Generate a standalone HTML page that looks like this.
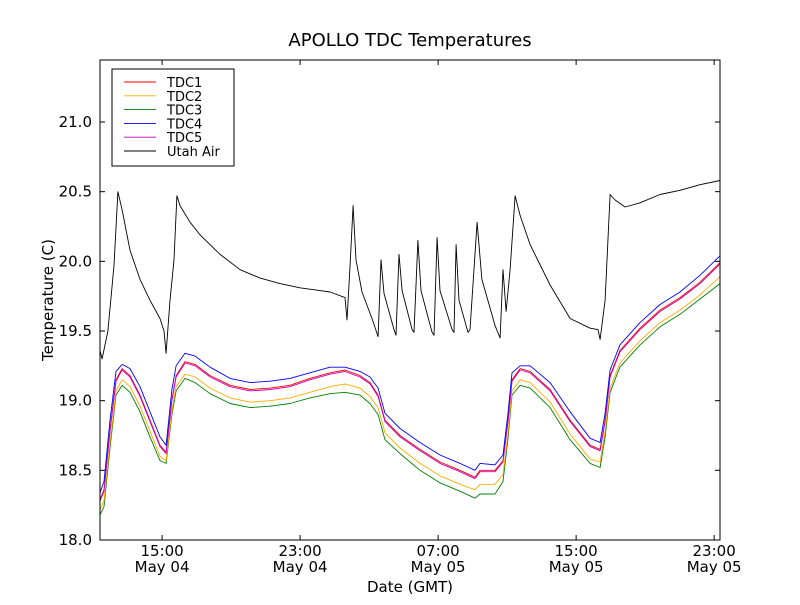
<!DOCTYPE html>
<html><head><meta charset="utf-8"><style>
body{margin:0;background:#fff;font-family:"Liberation Sans","DejaVu Sans",sans-serif}
svg text{font-family:"DejaVu Sans","Liberation Sans",sans-serif}
</style></head><body>
<svg id="chart" width="800" height="600" xmlns="http://www.w3.org/2000/svg">
<rect width="800" height="600" fill="#fff"/>
<text x="410" y="46" font-size="18" text-anchor="middle">APOLLO TDC Temperatures</text>
<text x="410" y="592" font-size="15" text-anchor="middle">Date (GMT)</text>
<text x="53" y="300" font-size="15" text-anchor="middle" transform="rotate(-90 53 300)">Temperature (C)</text>
<g id="plot"></g>
<rect x="100" y="60" width="620" height="480" fill="none" stroke="#000" stroke-width="1"/>
<g id="legend"></g>
</svg>
<script>
const tdcHours=[11.40,11.63,11.98,12.33,12.68,13.14,13.72,14.30,14.88,15.23,15.57,15.81,16.33,16.91,17.78,18.94,20.10,21.26,22.41,23.57,24.73,25.60,26.47,27.05,27.52,27.92,28.79,29.95,31.11,32.27,33.14,33.43,34.30,34.76,35.05,35.28,35.75,36.33,37.49,38.65,39.81,40.39,40.68,40.97,41.54,42.70,43.86,45.02,46.18,47.34];
const tdc1=[18.29,18.36,18.79,19.15,19.23,19.18,19.04,18.86,18.68,18.63,19.01,19.18,19.28,19.26,19.18,19.11,19.08,19.09,19.11,19.16,19.20,19.22,19.18,19.13,19.04,18.86,18.75,18.65,18.56,18.50,18.45,18.50,18.50,18.57,18.86,19.15,19.23,19.21,19.08,18.86,18.68,18.65,18.86,19.18,19.36,19.52,19.65,19.74,19.85,19.99];
const tdc2=[18.22,18.28,18.70,19.07,19.15,19.10,18.96,18.78,18.60,18.57,18.93,19.10,19.19,19.17,19.09,19.02,18.99,19.00,19.02,19.06,19.10,19.12,19.09,19.03,18.95,18.77,18.66,18.55,18.46,18.40,18.36,18.40,18.40,18.47,18.77,19.07,19.15,19.13,18.99,18.76,18.58,18.56,18.78,19.09,19.27,19.43,19.56,19.65,19.76,19.89];
const tdc3=[18.18,18.24,18.66,19.04,19.11,19.06,18.92,18.74,18.57,18.55,18.90,19.07,19.16,19.13,19.05,18.98,18.95,18.96,18.98,19.02,19.05,19.06,19.04,18.98,18.90,18.72,18.62,18.50,18.41,18.35,18.30,18.33,18.33,18.42,18.73,19.04,19.11,19.09,18.95,18.72,18.55,18.52,18.74,19.06,19.24,19.40,19.53,19.62,19.73,19.84];
const tdc4=[18.34,18.42,18.86,19.21,19.26,19.23,19.10,18.92,18.74,18.68,19.08,19.25,19.34,19.32,19.24,19.16,19.13,19.14,19.16,19.20,19.24,19.24,19.21,19.17,19.09,18.91,18.80,18.70,18.61,18.55,18.50,18.55,18.54,18.61,18.91,19.20,19.25,19.25,19.13,18.92,18.73,18.70,18.91,19.22,19.40,19.56,19.69,19.78,19.90,20.04];
const tdc5=[18.28,18.35,18.78,19.14,19.22,19.17,19.03,18.85,18.67,18.62,19.00,19.17,19.27,19.25,19.17,19.10,19.07,19.08,19.10,19.15,19.19,19.21,19.17,19.12,19.03,18.85,18.74,18.64,18.55,18.49,18.44,18.49,18.49,18.56,18.85,19.14,19.22,19.20,19.07,18.85,18.67,18.64,18.85,19.17,19.35,19.51,19.64,19.73,19.84,19.98];
const airHours=[11.40,11.52,11.86,12.21,12.44,12.68,13.14,13.72,14.30,14.88,15.11,15.23,15.46,15.69,15.86,16.04,16.62,17.20,18.36,19.52,20.68,21.83,22.99,24.15,24.73,25.60,25.72,25.89,26.07,26.24,26.59,27.17,27.52,27.69,27.86,28.44,28.56,28.73,28.91,29.49,29.60,29.83,30.01,30.65,30.76,30.94,31.11,31.81,31.92,32.04,32.21,32.73,32.85,33.26,33.54,34.30,34.59,34.76,34.94,35.17,35.46,35.75,36.33,37.49,38.65,39.81,40.27,40.39,40.68,40.97,41.26,41.84,42.70,43.86,45.02,46.18,47.34];
const airTemp=[19.36,19.30,19.50,19.97,20.50,20.37,20.08,19.87,19.72,19.59,19.50,19.34,19.72,20.01,20.47,20.40,20.28,20.19,20.05,19.94,19.88,19.84,19.81,19.79,19.78,19.74,19.58,19.96,20.40,20.01,19.78,19.59,19.46,20.01,19.77,19.51,19.47,20.05,19.79,19.51,19.49,20.15,19.79,19.49,19.47,20.17,19.79,19.51,19.49,20.12,19.72,19.49,19.51,20.28,19.87,19.54,19.45,19.94,19.64,19.94,20.47,20.33,20.12,19.83,19.59,19.52,19.51,19.44,19.72,20.48,20.44,20.39,20.42,20.48,20.51,20.55,20.58];
const yTicks=[18.0,18.5,19.0,19.5,20.0,20.5,21.0];
const xTicks=[15,23,31,39,47];
const xTickTimes=["15:00","23:00","07:00","15:00","23:00"];
const xTickDates=["May 04","May 04","May 05","May 05","May 05"];
const seriesNames=["TDC1","TDC2","TDC3","TDC4","TDC5","Utah Air"];
const seriesColors=["#ff0000","#ffaa00","#008000","#0000ff","#bf00bf","#000000"];

const X0=100,X1=720,Y0=540,Y1=60,H0=11.4,H1=47.34,V0=18,V1=21.445;
const sx=h=>X0+(h-H0)/(H1-H0)*(X1-X0);
const sy=v=>Y0-(v-V0)/(V1-V0)*(Y0-Y1);
const NS="http://www.w3.org/2000/svg";
const plot=document.getElementById('plot');
function mk(t,a,p){const e=document.createElementNS(NS,t);for(const k in a)e.setAttribute(k,a[k]);(p||plot).appendChild(e);return e;}
yTicks.forEach(v=>{
 const y=sy(v);
 const t1=mk('line',{x1:X0,x2:X0+5,y1:y,y2:y,stroke:'#000'});
 
 
 mk('line',{x1:X1-5,x2:X1,y1:y,y2:y,stroke:'#000'});
 const t=mk('text',{x:X0-8,y:y+5,'font-size':15,'text-anchor':'end'});
 t.textContent=v.toFixed(1);
 
 
});
xTicks.forEach((h,i)=>{
 const x=sx(h);
 const t1=mk('line',{x1:x,x2:x,y1:Y0,y2:Y0-5,stroke:'#000'});
 
 
 mk('line',{x1:x,x2:x,y1:Y1,y2:Y1+5,stroke:'#000'});
 const t=mk('text',{x:x,y:Y0+16,'font-size':15,'text-anchor':'middle'});
 t.textContent=xTickTimes[i];
 
 
 const d=mk('text',{x:x,y:Y0+32,'font-size':15,'text-anchor':'middle'});
 d.textContent=xTickDates[i];
 
 
});
const tdcs=[tdc1,tdc2,tdc3,tdc4,tdc5];
function line(hs,vs,c,name){
 const p=mk('polyline',{points:hs.map((h,i)=>sx(h).toFixed(1)+','+sy(vs[i]).toFixed(1)).join(' '),fill:'none',stroke:c,'stroke-width':0.9,'stroke-linejoin':'round'});
 
 
}
line(airHours,airTemp,seriesColors[5],'utah-air-line');
[2,1,0,4,3].forEach(i=>line(tdcHours,tdcs[i],seriesColors[i],'tdc'+(i+1)+'-line'));
const lg=document.getElementById('legend');
mk('rect',{x:112,y:69,width:122,height:97,fill:'#fff',stroke:'#000'},lg);
seriesNames.forEach((n,i)=>{
 const y=82+i*13.8;
 const l=mk('line',{x1:124,x2:156,y1:y,y2:y,stroke:seriesColors[i],'stroke-width':0.9},lg);
 
 
 const t=mk('text',{x:167,y:y+5,'font-size':13},lg);
 t.textContent=n;
 
 
});
</script>
</body></html>
